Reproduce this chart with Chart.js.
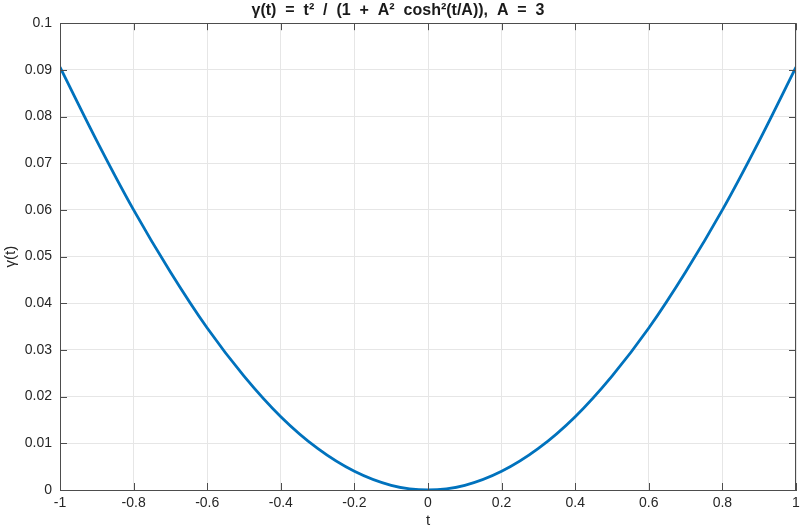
<!DOCTYPE html>
<html><head><meta charset="utf-8">
<script src="https://cdn.jsdelivr.net/npm/chart.js@4"></script>
<style>html,body{margin:0;padding:0;background:#fff}#wrap{width:800px;height:530px}</style>
</head><body><div id="wrap"><canvas id="c" width="800" height="530"></canvas></div>
<script>
const tValues = [-1,-0.9,-0.8,-0.7,-0.6,-0.5,-0.4,-0.3,-0.2,-0.1,0,0.1,0.2,0.3,0.4,0.5,0.6,0.7,0.8,0.9,1];
const gammaValues = [0.0906,0.0748,0.0600,0.0467,0.0347,0.0244,0.0157,0.0089,0.0040,0.0010,0,0.0010,0.0040,0.0089,0.0157,0.0244,0.0347,0.0467,0.0600,0.0748,0.0906];
const xTicks = [-1,-0.8,-0.6,-0.4,-0.2,0,0.2,0.4,0.6,0.8,1];
const yTicks = [0,0.01,0.02,0.03,0.04,0.05,0.06,0.07,0.08,0.09,0.1];
const titleText = 'γ(t)  =  t²  /  (1  +  A²  cosh²(t/A)),  A  =  3';

const FONT = 'Liberation Sans, Arial, Helvetica, sans-serif';
const AX = '#4d4d4d';

const boxPlugin = {
  id:'box',
  afterDraw(chart){
    const {ctx, chartArea:a, scales:{x,y}} = chart;
    ctx.save();
    ctx.strokeStyle = AX; ctx.lineWidth = 1;
    ctx.beginPath();
    xTicks.forEach(v=>{const px=Math.round(x.getPixelForValue(v))+0.5;
      ctx.moveTo(px,a.bottom);ctx.lineTo(px,a.bottom-7);
      ctx.moveTo(px,a.top);ctx.lineTo(px,a.top+7);});
    yTicks.forEach(v=>{const py=Math.round(y.getPixelForValue(v))+0.5;
      ctx.moveTo(a.left,py);ctx.lineTo(a.left+7,py);
      ctx.moveTo(a.right,py);ctx.lineTo(a.right-7,py);});
    ctx.stroke();
    ctx.strokeRect(Math.round(a.left)+0.5, Math.round(a.top)+0.5, Math.round(a.right-a.left)-1, Math.round(a.bottom-a.top));
    ctx.restore();
  }
};

new Chart(document.getElementById('c'), {
  type:'line',
  data:{ datasets:[{ data: tValues.map((t,i)=>({x:t,y:gammaValues[i]})),
    borderColor:'#0072BD', borderWidth:2.8, pointRadius:0, tension:0.4, cubicInterpolationMode:'monotone', fill:false }]},
  options:{
    responsive:false, animation:false, devicePixelRatio:1,
    layout:{padding:{left:0,right:4,top:0,bottom:0}},
    plugins:{ legend:{display:false}, tooltip:{enabled:false},
      title:{display:true, text:titleText, color:'#1a1a1a', font:{family:FONT,size:16,weight:'bold'}, padding:{top:1,bottom:3}} },
    scales:{
      x:{ type:'linear', min:-1, max:1,
        afterBuildTicks(s){ s.ticks = xTicks.map(v=>({value:v})); },
        afterFit(s){ s.height = 40; s.paddingRight = 0; s.paddingLeft = 0; },
        grid:{color:'#e6e6e6', drawTicks:false},
        border:{color:AX},
        ticks:{ color:'#262626', padding:5, font:{family:FONT,size:14}, maxRotation:0, callback:v=>String(Math.round(v*10)/10) },
        title:{display:true, text:'t', color:'#262626', font:{family:FONT,size:15}, padding:{top:0,bottom:0}} },
      y:{ min:0, max:0.1,
        afterBuildTicks(s){ s.ticks = yTicks.map(v=>({value:v})); },
        afterFit(s){ s.width = 60; },
        grid:{color:'#e6e6e6', drawTicks:false},
        border:{color:AX},
        ticks:{ color:'#262626', padding:8, font:{family:FONT,size:14}, callback:v=>String(Math.round(v*100)/100) },
        title:{display:true, text:'γ(t)', color:'#262626', font:{family:FONT,size:15}, padding:{top:2,bottom:0}} }
    }
  },
  plugins:[boxPlugin]
});
</script></body></html>
